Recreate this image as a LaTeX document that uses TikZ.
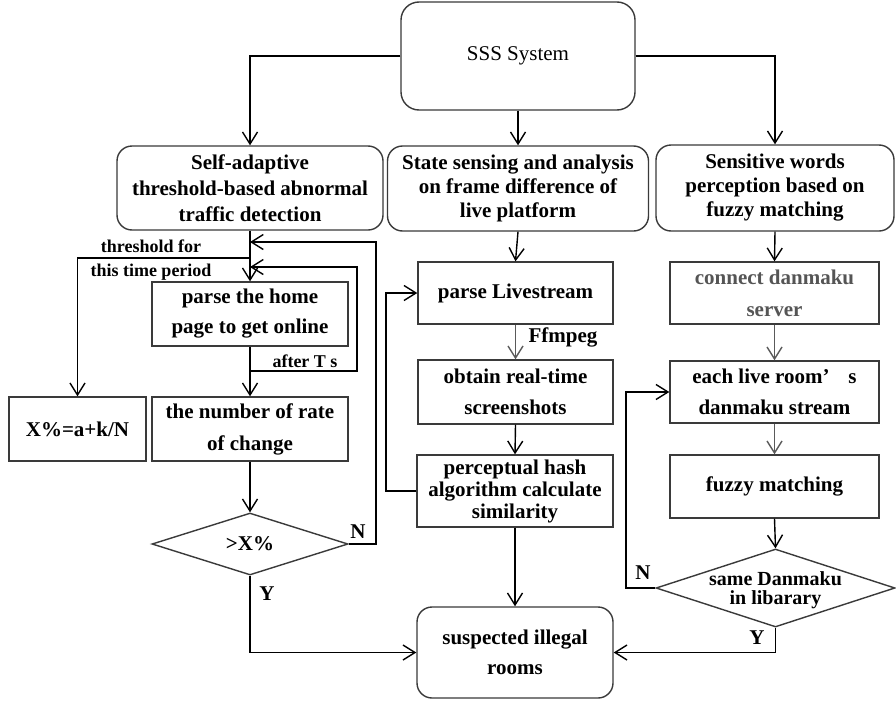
\documentclass[tikz,border=0pt]{standalone}
\usepackage{fontspec}
\setmainfont{Liberation Serif}
\usetikzlibrary{arrows.meta,shapes.geometric}
\definecolor{boxc}{HTML}{3A3A3A}
\definecolor{grayarr}{HTML}{5A5A5A}
\definecolor{graytxt}{HTML}{555555}
\begin{document}
\begin{tikzpicture}[x=1pt,y=-1pt,
  box/.style={draw=boxc, line width=1.4pt, align=center, inner sep=0pt,
    font=\bfseries\fontsize{21}{30}\selectfont},
  rbox/.style={box, rounded corners=15pt},
  dia/.style={draw=boxc, line width=1.4pt, diamond, inner sep=0pt},
  conn/.style={line width=1.4pt, -{Straight Barb[length=12pt,width=15pt]}},
  gconn/.style={conn, draw=grayarr},
  lab/.style={inner sep=0pt, font=\bfseries\fontsize{18}{20}\selectfont},
  blab/.style={inner sep=0pt, font=\bfseries\fontsize{21}{24}\selectfont}]
\fill[white] (0,0) rectangle (896,704);
\useasboundingbox (0,0) rectangle (896,704);

% top
\node[rbox, rounded corners=18pt, minimum width=234pt, minimum height=108pt,
  font=\fontsize{21}{24}\selectfont] (sss) at (518,56) {SSS System};

% row 1
\node[rbox, minimum width=266pt, minimum height=84pt, font=\bfseries\fontsize{21}{26}\selectfont]
  (adapt) at (250,188) {Self-adaptive\\threshold-based abnormal\\traffic detection};
\node[rbox, minimum width=261pt, minimum height=85pt, font=\bfseries\fontsize{21}{24}\selectfont]
  (state) at (518,188.5) {State sensing and analysis\\on frame difference of\\live platform};
\node[rbox, minimum width=238pt, minimum height=86pt, font=\bfseries\fontsize{21}{24}\selectfont]
  (sens) at (775,188) {Sensitive words\\perception based on\\fuzzy matching};

% left column
\node[box, minimum width=196pt, minimum height=64pt] (home) at (250,314) {parse the home\\page to get online};
\node[box, minimum width=196pt, minimum height=64pt, font=\bfseries\fontsize{21}{32}\selectfont]
  (rate) at (250,429) {the number of rate\\of change};
\node[box, minimum width=137pt, minimum height=64pt] (xp) at (77.5,429) {X\%=a+k/N};
\node[dia, minimum width=196pt, minimum height=62pt] (d1) at (250,544) {};
\node[blab] (d1t) at (d1) {>X\%};

% middle column
\node[box, minimum width=195pt, minimum height=62pt] (live) at (515.5,293) {parse Livestream};
\node[box, minimum width=195pt, minimum height=64pt, font=\bfseries\fontsize{21}{31}\selectfont]
  (obtain) at (515.5,392) {obtain real-time\\screenshots};
\node[box, minimum width=196pt, minimum height=72pt, font=\bfseries\fontsize{21}{22}\selectfont]
  (hash) at (515,491) {perceptual hash\\algorithm calculate\\similarity};
\node[rbox, minimum width=196pt, minimum height=91pt] (susp) at (515,652.5) {suspected illegal\\rooms};

% right column
\node[box, minimum width=209pt, minimum height=62pt, text=graytxt, font=\bfseries\fontsize{21}{32}\selectfont]
  (conn) at (774.5,293) {connect danmaku\\server};
\node[box, minimum width=209pt, minimum height=62pt, font=\bfseries\fontsize{21}{31}\selectfont]
  (each) at (774.5,392) {each live room’\hspace{0.9em}s\\danmaku stream};
\node[box, minimum width=209pt, minimum height=63pt] (fuzzy) at (774.5,486.5) {fuzzy matching};
\node[dia, minimum width=239pt, minimum height=78pt] (d2) at (775.5,588) {};
\node[blab, align=center, font=\bfseries\fontsize{20}{19}\selectfont] (d2t) at (775.5,590) {same Danmaku\\in libarary};

% coordinates
\coordinate (b1) at (250,258);
\coordinate (t1) at (250,371);
\coordinate (t2) at (357,371);
\coordinate (t3) at (357,267);
\coordinate (t4) at (250,267);
\coordinate (n1) at (376,544);
\coordinate (n2) at (250,242);
\coordinate (h1) at (386,491);
\coordinate (m1) at (626,588);

% connectors top
\draw[conn] (sss.west) -| (adapt.north);
\draw[conn] (sss.south) -- (state.north);
\draw[conn] (sss.east) -| (sens.north);

% left
\draw[conn] (adapt.south) -- (home.north);
\draw[conn] (b1) -| (xp.north);
\draw[conn] (home.south) -- (rate.north);
\draw[conn] (t1) -- (t2) -- (t3) -- (t4);
\draw[conn] (rate.south) -- (d1.north);
\draw[conn] (d1.east) -- (n1) |- (n2);
\draw[conn] (d1.south) |- (susp.west);

% middle
\draw[conn] (state.south) -- (live.north);
\draw[gconn] (live.south) -- (obtain.north);
\draw[conn] (obtain.south) -- (hash.north);
\draw[conn] (hash.south) -- (susp.north);
\draw[conn] (hash.west) -- (h1) |- (live.west);

% right
\draw[conn] (sens.south) -- (conn.north);
\draw[gconn] (conn.south) -- (each.north);
\draw[gconn] (each.south) -- (fuzzy.north);
\draw[conn] (fuzzy.south) -- (d2.north);
\draw[conn] (d2.west) -- (m1) |- (each.west);
\draw[conn] (d2.south) |- (susp.east);

% labels
\node[lab] (l1) at (151,246) {threshold for};
\node[lab] (l2) at (151,272) {this time period};
\node[lab] (l3) at (305,361) {after T s};
\node[blab] (l4) at (563,337) {Ffmpeg};
\node[blab] (ln1) at (358,532) {N};
\node[blab] (ly1) at (267,594) {Y};
\node[blab] (ln2) at (643,573) {N};
\node[blab] (ly2) at (757,638) {Y};
\end{tikzpicture}
\end{document}
